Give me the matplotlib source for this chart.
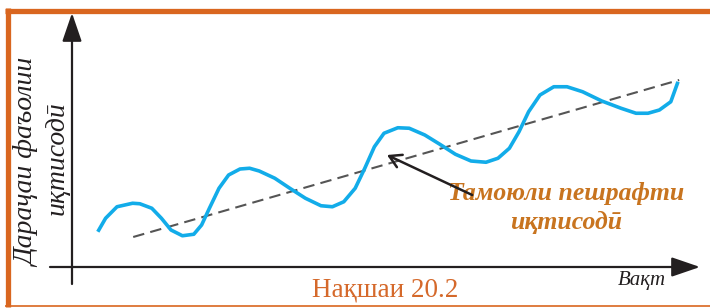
import matplotlib
matplotlib.use('Agg')
import matplotlib.pyplot as plt

# economic activity curve (time, level)
time = [0.43, 0.56, 0.75, 1.01, 1.13, 1.33, 1.49, 1.65, 1.84, 2.03, 2.16, 2.29,
        2.45, 2.61, 2.80, 2.96, 3.12, 3.38, 3.63, 3.89, 4.15, 4.34, 4.53, 4.72,
        4.88, 5.04, 5.20, 5.43, 5.62, 5.88, 6.13, 6.39, 6.65, 6.90, 7.10, 7.29,
        7.45, 7.61, 7.80, 8.03, 8.25, 8.51, 8.83, 9.15, 9.40, 9.60, 9.79, 9.98, 10.10]
level = [1.41, 1.95, 2.41, 2.55, 2.53, 2.35, 1.95, 1.48, 1.25, 1.31, 1.68, 2.35,
         3.15, 3.68, 3.92, 3.95, 3.84, 3.55, 3.15, 2.75, 2.45, 2.41, 2.61, 3.15,
         3.95, 4.81, 5.35, 5.57, 5.55, 5.28, 4.91, 4.51, 4.24, 4.19, 4.35, 4.75,
         5.41, 6.21, 6.88, 7.21, 7.21, 7.01, 6.64, 6.35, 6.15, 6.15, 6.28, 6.61, 7.41]

# long-run trend line
trend_time = [1.02, 10.12]
trend_level = [1.20, 7.48]

# arrow from the label to the trend
arrow_tip = (5.25, 4.48)
arrow_tail = (6.67, 2.88)

ylabel_lines = ['Дараҷаи фаъолии', 'иқтисодӣ']
trend_label = 'Тамоюли пешрафти\nиқтисодӣ'
xlabel = 'Вақт'
caption = 'Нақшаи 20.2'

serif = ['Liberation Serif', 'DejaVu Serif']
frame_color = '#d9661f'
ink = '#231f20'

fig = plt.figure(figsize=(7.1, 3.08), dpi=100)

# background axes in pixel units for the frame and labels
bg = fig.add_axes([0, 0, 1, 1])
bg.set_xlim(0, 710)
bg.set_ylim(308, 0)
bg.axis('off')
bg.plot([5, 710], [10.5, 10.5], color=frame_color, lw=3.8, solid_capstyle='butt')
bg.plot([7.5, 7.5], [8, 307], color=frame_color, lw=3.8, solid_capstyle='butt')
bg.plot([5, 710], [306, 306], color=frame_color, lw=1.2, solid_capstyle='butt')

bg.text(28, 163, ylabel_lines[0], rotation=90, ha='center', va='center',
        fontsize=20, style='italic', family=serif, color=ink)
bg.text(57, 158, ylabel_lines[1], rotation=90, ha='center', va='center',
        fontsize=20, style='italic', family=serif, color=ink)
bg.text(642, 280, xlabel, ha='center', va='center', fontsize=15,
        style='italic', family=serif, color=ink)
bg.text(385, 290, caption, ha='center', va='center', fontsize=19.5,
        family=serif, color='#d5692b')

# chart axes
ax = fig.add_axes([72 / 710, 41 / 308, 628 / 710, 254 / 308])
ax.set_xlim(0, 628 / 60)
ax.set_ylim(0, 254 / 25)
ax.axis('off')

axis_style = dict(arrowstyle='-|>,head_length=1.75,head_width=0.6', mutation_scale=10,
                  lw=1.6, color=ink, shrinkA=0, shrinkB=0)
ax.annotate('', xy=(0, 1), xytext=(0, -17 / 254), xycoords='axes fraction',
            arrowprops=axis_style, annotation_clip=False)
ax.annotate('', xy=(1, 0), xytext=(-22 / 628, 0), xycoords='axes fraction',
            arrowprops=axis_style, annotation_clip=False)

ax.plot(trend_time, trend_level, color='#555555', lw=1.5, dashes=(5.5, 3))
ax.plot(time, level, color='#12ace9', lw=2.6, solid_capstyle='butt', solid_joinstyle='round')

ax.annotate('', xy=arrow_tip, xytext=arrow_tail,
            arrowprops=dict(arrowstyle='->,head_length=0.6,head_width=0.35',
                            mutation_scale=14, lw=1.8, color=ink, shrinkA=0, shrinkB=0))

bg.text(566, 208, trend_label, ha='center', va='center', fontsize=18.5,
        style='italic', weight='bold', family=serif, color='#c8741f', linespacing=1.3)

fig.savefig('out.png', dpi=100)
